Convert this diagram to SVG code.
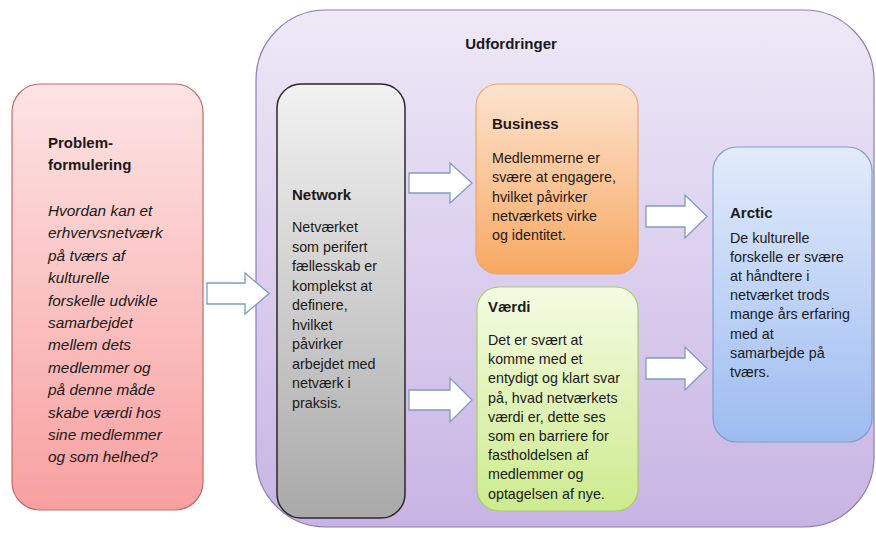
<svg xmlns="http://www.w3.org/2000/svg" width="876" height="533" viewBox="0 0 876 533">
<defs>
<linearGradient id="gPurple" x1="0" y1="0" x2="0" y2="1"><stop offset="0" stop-color="#eee9f7"/><stop offset="1" stop-color="#c8b4e4"/></linearGradient>
<linearGradient id="gRed" x1="0" y1="0" x2="0" y2="1"><stop offset="0" stop-color="#fde4e4"/><stop offset="1" stop-color="#f8a0a0"/></linearGradient>
<linearGradient id="gGray" x1="0" y1="0" x2="0" y2="1"><stop offset="0" stop-color="#f2f2f2"/><stop offset="1" stop-color="#a9a9a9"/></linearGradient>
<linearGradient id="gOrange" x1="0" y1="0" x2="0" y2="1"><stop offset="0" stop-color="#fde4d0"/><stop offset="1" stop-color="#f8a862"/></linearGradient>
<linearGradient id="gGreen" x1="0" y1="0" x2="0" y2="1"><stop offset="0" stop-color="#f4fbe2"/><stop offset="1" stop-color="#cdeb8e"/></linearGradient>
<linearGradient id="gBlue" x1="0" y1="0" x2="0" y2="1"><stop offset="0" stop-color="#e2ebfb"/><stop offset="1" stop-color="#9dbcf1"/></linearGradient>
</defs>
<style>
text{font-family:"Liberation Sans",Arial,sans-serif;fill:#1a1a1a}
.h{font-weight:bold;font-size:15px}
.b{font-size:14.3px}
.i{font-size:15.4px;font-style:italic}
.t{font-weight:bold;font-size:15px}
.arrow{fill:#ffffff;stroke:#7d9cc0;stroke-width:1.3;stroke-linejoin:miter}
</style>
<rect width="876" height="533" fill="#ffffff"/>
<g id="udfordringer">
<rect x="256" y="10" width="618" height="517" rx="70" fill="url(#gPurple)" stroke="#8c7fae" stroke-width="1.2"/>
<text class="t" x="511" y="49" text-anchor="middle">Udfordringer</text>
</g>
<g id="problemformulering">
<rect x="12" y="84" width="191" height="426" rx="28" fill="url(#gRed)" stroke="#c46a6a" stroke-width="1.2"/>
<text class="h" x="48" y="148">Problem-</text>
<text class="h" x="48" y="170">formulering</text>
<text class="i" x="48" y="216">Hvordan kan et</text>
<text class="i" x="48" y="238.4">erhvervsnetværk</text>
<text class="i" x="48" y="260.8">på tværs af</text>
<text class="i" x="48" y="283.2">kulturelle</text>
<text class="i" x="48" y="305.6">forskelle udvikle</text>
<text class="i" x="48" y="328">samarbejdet</text>
<text class="i" x="48" y="350.4">mellem dets</text>
<text class="i" x="48" y="372.8">medlemmer og</text>
<text class="i" x="48" y="395.2">på denne måde</text>
<text class="i" x="48" y="417.6">skabe værdi hos</text>
<text class="i" x="48" y="440">sine medlemmer</text>
<text class="i" x="48" y="462.4">og som helhed?</text>
</g>
<g id="network">
<rect x="277" y="84" width="128" height="434" rx="24" fill="url(#gGray)" stroke="#2a2a2a" stroke-width="1.5"/>
<text class="h" x="292" y="200">Network</text>
<text class="b" x="292" y="232">Netværket</text>
<text class="b" x="292" y="251.5">som perifert</text>
<text class="b" x="292" y="271">fællesskab er</text>
<text class="b" x="292" y="290.5">komplekst at</text>
<text class="b" x="292" y="310">definere,</text>
<text class="b" x="292" y="329.5">hvilket</text>
<text class="b" x="292" y="349">påvirker</text>
<text class="b" x="292" y="368.5">arbejdet med</text>
<text class="b" x="292" y="388">netværk i</text>
<text class="b" x="292" y="407.5">praksis.</text>
</g>
<g id="business">
<rect x="476" y="84" width="162" height="190" rx="22" fill="url(#gOrange)" stroke="#f0a468" stroke-width="1.2"/>
<text class="h" x="492" y="129">Business</text>
<text class="b" x="492" y="163">Medlemmerne er</text>
<text class="b" x="492" y="182.3">svære at engagere,</text>
<text class="b" x="492" y="201.6">hvilket påvirker</text>
<text class="b" x="492" y="220.9">netværkets virke</text>
<text class="b" x="492" y="240.2">og identitet.</text>
</g>
<g id="vaerdi">
<rect x="477" y="287" width="161" height="224" rx="22" fill="url(#gGreen)" stroke="#a6cf62" stroke-width="1.2"/>
<text class="h" x="488" y="312">Værdi</text>
<text class="b" x="488" y="345">Det er svært at</text>
<text class="b" x="488" y="364.2">komme med et</text>
<text class="b" x="488" y="383.4">entydigt og klart svar</text>
<text class="b" x="488" y="402.6">på, hvad netværkets</text>
<text class="b" x="488" y="421.8">værdi er, dette ses</text>
<text class="b" x="488" y="441">som en barriere for</text>
<text class="b" x="488" y="460.2">fastholdelsen af</text>
<text class="b" x="488" y="479.4">medlemmer og</text>
<text class="b" x="488" y="498.6">optagelsen af nye.</text>
</g>
<g id="arctic">
<rect x="713" y="147" width="159" height="295" rx="24" fill="url(#gBlue)" stroke="#7f9fce" stroke-width="1.2"/>
<text class="h" x="730" y="218">Arctic</text>
<text class="b" x="730" y="243">De kulturelle</text>
<text class="b" x="730" y="262.1">forskelle er svære</text>
<text class="b" x="730" y="281.2">at håndtere i</text>
<text class="b" x="730" y="300.3">netværket trods</text>
<text class="b" x="730" y="319.4">mange års erfaring</text>
<text class="b" x="730" y="338.5">med at</text>
<text class="b" x="730" y="357.6">samarbejde på</text>
<text class="b" x="730" y="376.7">tværs.</text>
</g>
<g id="connectors">
<path class="arrow" d="M207,283 H245 V273 L269,293.5 L245,314 V304 H207 Z"/>
<path class="arrow" d="M409,173 H450 V163 L472,183 L450,203 V193 H409 Z"/>
<path class="arrow" d="M409,390 H450 V378 L472,400 L450,422 V410 H409 Z"/>
<path class="arrow" d="M646,206 H685 V195 L707,216.5 L685,238 V227 H646 Z"/>
<path class="arrow" d="M646,358 H685 V347 L707,368.5 L685,390 V379 H646 Z"/>
</g>
</svg>
